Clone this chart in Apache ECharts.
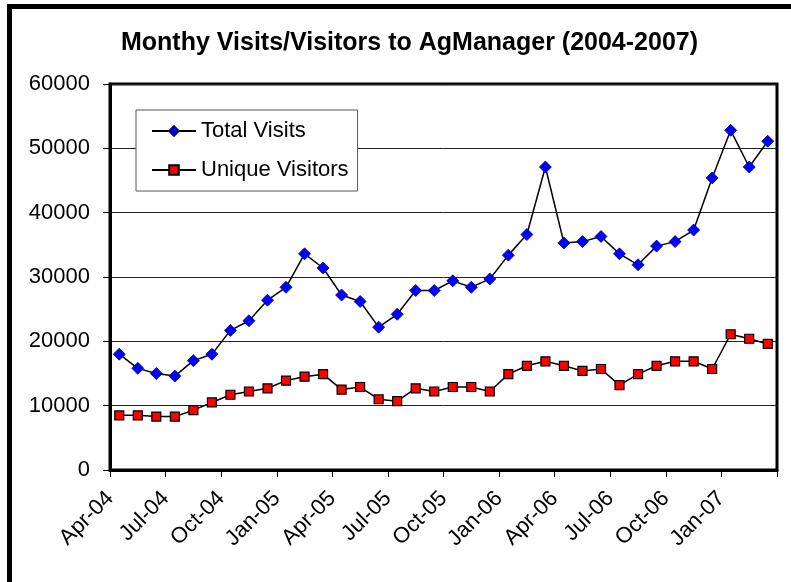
<!DOCTYPE html>
<html>
<head>
<meta charset="utf-8">
<script src="https://cdn.jsdelivr.net/npm/echarts@6/dist/echarts.min.js"></script>
<style>
html,body{margin:0;padding:0;background:#fff;}
#chart{width:791px;height:582px;}
</style>
</head>
<body>
<div id="chart"></div>
<script>
// Months Apr-04 .. Mar-07 (one point per month)
const months = ['Apr-04','May-04','Jun-04','Jul-04','Aug-04','Sep-04','Oct-04','Nov-04','Dec-04',
  'Jan-05','Feb-05','Mar-05','Apr-05','May-05','Jun-05','Jul-05','Aug-05','Sep-05','Oct-05','Nov-05','Dec-05',
  'Jan-06','Feb-06','Mar-06','Apr-06','May-06','Jun-06','Jul-06','Aug-06','Sep-06','Oct-06','Nov-06','Dec-06',
  'Jan-07','Feb-07','Mar-07'];
const totalVisits = [18000,15800,15000,14600,17000,18000,21700,23200,26400,28400,33600,31400,
  27200,26200,22200,24200,27900,27900,29400,28400,29700,33400,36600,47100,
  35300,35500,36300,33600,31900,34800,35500,37300,45400,52800,47100,51100];
const uniqueVisitors = [8500,8500,8300,8300,9300,10500,11700,12200,12700,13900,14500,14900,
  12500,12900,11000,10700,12700,12200,12900,12900,12200,14900,16200,16900,
  16200,15400,15700,13200,14900,16200,16900,16900,15700,21100,20400,19600];
const tickLabels = ['Apr-04','Jul-04','Oct-04','Jan-05','Apr-05','Jul-05','Oct-05','Jan-06','Apr-06','Jul-06','Oct-06','Jan-07'];
const yTicks = [0,10000,20000,30000,40000,50000,60000];

const chart = echarts.init(document.getElementById('chart'), null, {renderer:'canvas'});
const font = 'Arial, "Liberation Sans", sans-serif';
const toPoints = arr => months.map((m, i) => [i + 0.5, arr[i]]);

chart.setOption({
  animation: false,
  backgroundColor: '#fff',
  title: {
    text: 'Monthy Visits/Visitors to AgManager (2004-2007)',
    left: 116, top: 26,
    textStyle: {fontFamily: font, fontSize: 25, fontWeight: 'bold', color: '#000'}
  },
  graphic: [{
    type: 'rect', silent: true, z: 100,
    shape: {x: 9.5, y: 6.5, width: 900, height: 900},
    style: {fill: 'none', stroke: '#000', lineWidth: 5}
  }],
  legend: {
    orient: 'vertical', left: 136, top: 110,
    padding: [9, 9, 9, 15],
    itemGap: 15, itemWidth: 44, itemHeight: 12,
    backgroundColor: '#fff', borderColor: '#555', borderWidth: 1,
    textStyle: {fontFamily: font, fontSize: 22, color: '#000', lineHeight: 24},
    data: ['Total Visits', 'Unique Visitors']
  },
  grid: {
    left: 110, right: 14, top: 84, bottom: 112,
    show: true, borderColor: '#000', borderWidth: 3, backgroundColor: 'transparent'
  },
  xAxis: {
    type: 'value', min: 0, max: 36, interval: 3,
    axisLine: {show: true, lineStyle: {color: '#000', width: 3}},
    axisTick: {show: true, length: 7, lineStyle: {color: '#000', width: 1}},
    splitLine: {show: false},
    axisLabel: {
      rotate: 45, margin: 25, fontFamily: font, fontSize: 22, color: '#000',
      showMaxLabel: true,
      formatter: v => tickLabels[Math.round(v / 3)] || ''
    }
  },
  yAxis: {
    type: 'value', min: yTicks[0], max: yTicks[yTicks.length - 1], interval: 10000,
    axisLine: {show: true, lineStyle: {color: '#000', width: 3}},
    axisTick: {show: true, length: 7, lineStyle: {color: '#000', width: 1}},
    splitLine: {show: true, lineStyle: {color: '#222', width: 1}},
    axisLabel: {margin: 20, fontFamily: font, fontSize: 22, color: '#000', formatter: v => String(v)}
  },
  series: [
    {
      name: 'Total Visits', type: 'line', data: toPoints(totalVisits),
      symbol: 'diamond', symbolSize: 12, showAllSymbol: true,
      lineStyle: {color: '#000', width: 1.5},
      itemStyle: {color: '#0000FF', borderColor: '#000080', borderWidth: 0.8},
      z: 3
    },
    {
      name: 'Unique Visitors', type: 'line', data: toPoints(uniqueVisitors),
      symbol: 'rect', symbolSize: 9, showAllSymbol: true,
      lineStyle: {color: '#000', width: 1.5},
      itemStyle: {color: '#FF0000', borderColor: '#000', borderWidth: 1.2},
      z: 3
    }
  ]
});
</script>
</body>
</html>
